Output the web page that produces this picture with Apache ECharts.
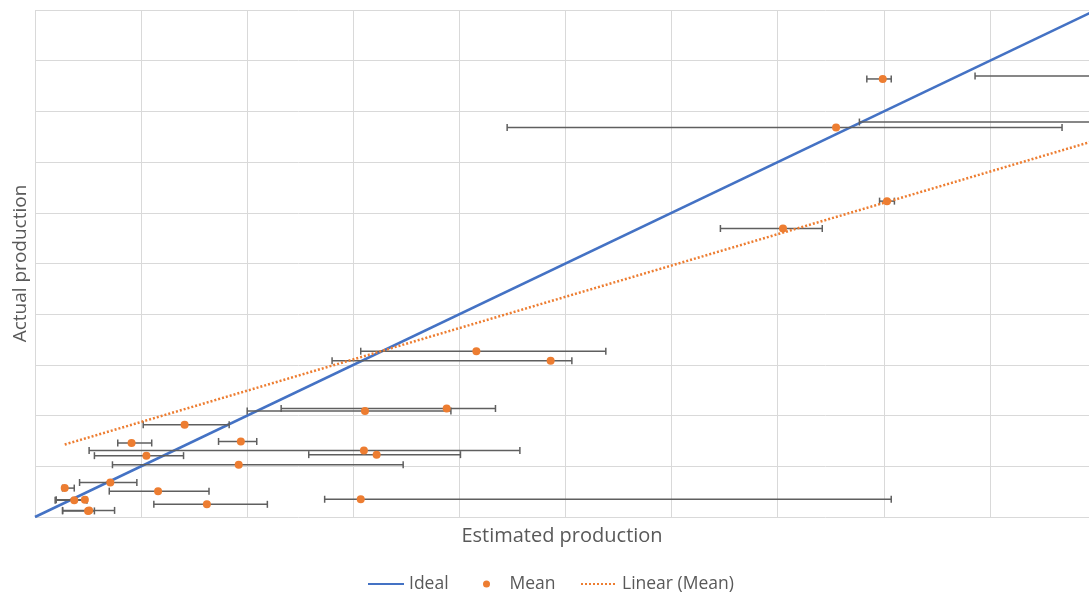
<!DOCTYPE html>
<html>
<head>
<meta charset="utf-8">
<script src="https://cdn.jsdelivr.net/npm/echarts@6/dist/echarts.min.js"></script>
<style>
html,body{margin:0;padding:0;background:#fff;}
#chart{width:1089px;height:594px;}
</style>
</head>
<body>
<div id="chart"></div>
<script>
// Mean points (estimated, actual) and the min/max range of the estimate
const meanX = [7.99, 10.40, 10.30, 7.55, 8.03, 7.05, 4.16, 4.86, 3.88, 3.11, 1.41, 0.91, 1.94, 3.10, 3.22, 1.05, 1.92, 0.71, 0.28, 1.16, 0.37, 0.47, 3.07, 1.62, 0.50, 0.51];
const meanY = [8.64, 8.70, 7.79, 7.68, 6.23, 5.69, 3.27, 3.08, 2.14, 2.09, 1.82, 1.46, 1.49, 1.31, 1.23, 1.21, 1.03, 0.68, 0.57, 0.51, 0.33, 0.34, 0.35, 0.25, 0.12, 0.13];
const lowX  = [7.84, 8.86, 7.77, 4.45, 7.96, 6.46, 3.07, 2.80, 2.32, 2.00, 1.02, 0.78, 1.73, 0.51, 2.58, 0.56, 0.73, 0.42, 0.26, 0.70, 0.19, 0.20, 2.73, 1.12, 0.26, 0.26];
const highX = [8.07, 11.80, 12.50, 9.68, 8.10, 7.42, 5.38, 5.06, 4.34, 3.92, 1.83, 1.10, 2.09, 4.57, 4.01, 1.40, 3.47, 0.96, 0.37, 1.64, 0.49, 0.48, 8.07, 2.19, 0.56, 0.75];

// Ideal line (estimated = actual)
const idealX = [0, 10];
const idealY = [0, 10];

// Linear trendline of the means (end points)
const trendX = [0.28, 10];
const trendY = [1.43, 7.43];

// the visible part of the x axis is cut a little before 10
const xMin = 0, xMax = 9.934, yMin = 0, yMax = 10, axisStep = 1;
const legendNames = ['Ideal', 'Mean', 'Linear (Mean)'];

const FONT = '"Open Sans", "Noto Sans", sans-serif';
const TXT = '#595959';

const chart = echarts.init(document.getElementById('chart'), null, {renderer: 'canvas'});

const errData = meanY.map((y, i) => [lowX[i], y, highX[i]]);

function legendItem(name, left, extra) {
  return {
    data: [Object.assign({name: name}, extra || {})],
    bottom: 1, left: left, padding: 0,
    itemWidth: 36, itemHeight: 7,
    textStyle: {fontFamily: FONT, fontSize: 17.5, color: TXT},
    selectedMode: false
  };
}

const option = {
  animation: false,
  backgroundColor: '#ffffff',
  grid: {left: 35, top: 10, right: 0, bottom: 77, containLabel: false},
  xAxis: {
    type: 'value', min: xMin, max: xMax, interval: axisStep,
    name: 'Estimated production', nameLocation: 'middle', nameGap: 9, nameMoveOverlap: false,
    nameTextStyle: {fontFamily: FONT, fontSize: 20, color: TXT, align: 'center'},
    axisLine: {show: false}, axisTick: {show: false}, axisLabel: {show: false},
    splitLine: {show: true, showMaxLine: false, lineStyle: {color: '#d9d9d9', width: 1}}
  },
  yAxis: {
    type: 'value', min: yMin, max: yMax, interval: axisStep,
    name: 'Actual production', nameLocation: 'middle', nameGap: 5,
    nameTextStyle: {fontFamily: FONT, fontSize: 19, color: TXT},
    axisLine: {show: false}, axisTick: {show: false}, axisLabel: {show: false},
    splitLine: {show: true, lineStyle: {color: '#d9d9d9', width: 1}}
  },
  legend: [
    legendItem(legendNames[0], 367, {itemStyle: {opacity: 0}}),
    legendItem(legendNames[1], 483, {icon: 'circle'}),
    legendItem(legendNames[2], 580, {itemStyle: {opacity: 0}})
  ],
  series: [
    {
      name: legendNames[0], type: 'line',
      data: idealX.map((x, i) => [x, idealY[i]]),
      symbol: 'none', showSymbol: false,
      lineStyle: {color: '#4472C4', width: 2.5},
      itemStyle: {color: '#4472C4'},
      z: 2
    },
    {
      name: 'err', type: 'custom',
      data: errData,
      encode: {x: [0, 2], y: 1},
      clip: true,
      z: 3,
      renderItem: function (params, api) {
        const y = api.value(1);
        const p1 = api.coord([api.value(0), y]);
        const p2 = api.coord([api.value(2), y]);
        const h = 3.5;
        const st = {stroke: '#5f5f5f', lineWidth: 1.5, fill: null};
        return {
          type: 'group',
          children: [
            {type: 'line', shape: {x1: p1[0], y1: p1[1], x2: p2[0], y2: p2[1]}, style: st},
            {type: 'line', shape: {x1: p1[0], y1: p1[1] - h, x2: p1[0], y2: p1[1] + h}, style: st},
            {type: 'line', shape: {x1: p2[0], y1: p2[1] - h, x2: p2[0], y2: p2[1] + h}, style: st}
          ]
        };
      }
    },
    {
      name: legendNames[1], type: 'scatter',
      data: meanX.map((x, i) => [x, meanY[i]]),
      symbol: 'circle', symbolSize: 8,
      itemStyle: {color: '#ED7D31', opacity: 1},
      clip: true,
      z: 4
    },
    {
      name: legendNames[2], type: 'line',
      data: trendX.map((x, i) => [x, trendY[i]]),
      symbol: 'none', showSymbol: false,
      lineStyle: {color: '#ED7D31', width: 2.5, type: [2, 2]},
      itemStyle: {color: '#ED7D31'},
      z: 5
    }
  ]
};
chart.setOption(option);
</script>
</body>
</html>
